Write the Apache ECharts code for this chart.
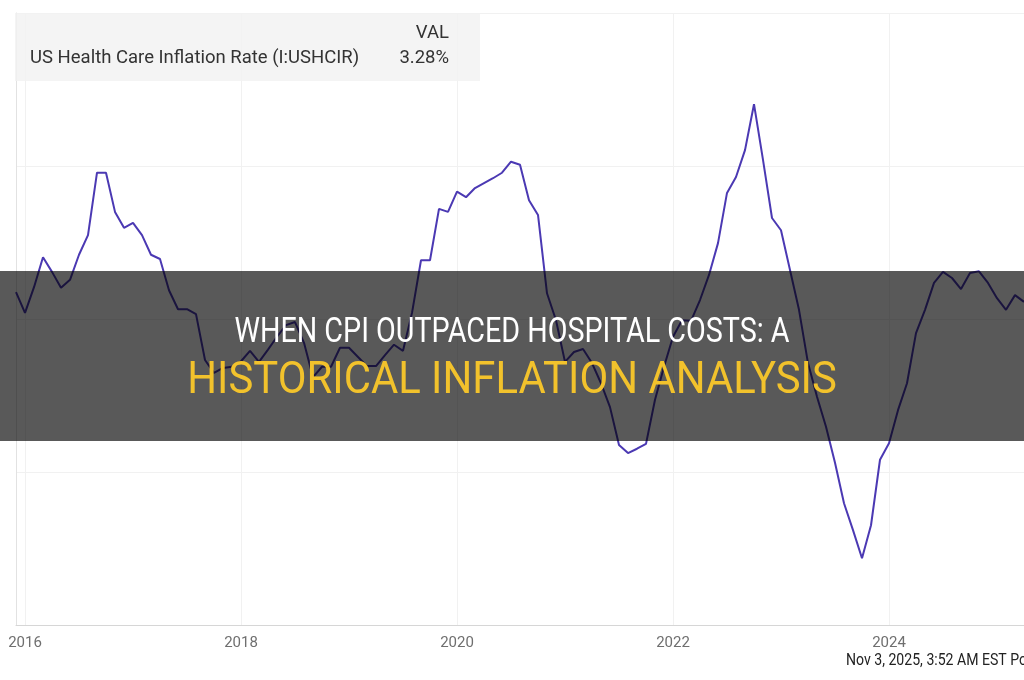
<!DOCTYPE html>
<html>
<head>
<meta charset="utf-8">
<script src="https://cdn.jsdelivr.net/npm/echarts@6/dist/echarts.min.js"></script>
<style>
html,body{margin:0;padding:0;background:#fff;}
#main{width:1024px;height:680px;}
</style>
</head>
<body>
<div id="main"></div>
<script>
// monthly values, % year over year
var v2015 = [2.94]; // Dec only
var v2016 = [2.60, 3.02, 3.51, 3.27, 3.01, 3.14, 3.55, 3.87, 4.89, 4.89, 4.25, 3.99];
var v2017 = [4.07, 3.87, 3.55, 3.48, 2.97, 2.66, 2.66, 2.58, 1.83, 1.62, 1.70, 1.72];
var v2018 = [1.81, 1.98, 1.80, 2.00, 2.21, 2.40, 2.45, 2.11, 1.55, 1.72, 1.72, 2.03];
var v2019 = [2.03, 1.88, 1.73, 1.73, 1.91, 2.08, 1.98, 2.60, 3.46, 3.46, 4.30, 4.25];
var v2020 = [4.58, 4.49, 4.64, 4.72, 4.80, 4.89, 5.07, 5.02, 4.44, 4.20, 2.92, 2.48];
var v2021 = [1.80, 1.96, 2.01, 1.78, 1.45, 1.06, 0.44, 0.31, 0.38, 0.46, 1.18, 1.72];
var v2022 = [2.21, 2.48, 2.47, 2.81, 3.22, 3.74, 4.56, 4.82, 5.26, 6.01, 5.10, 4.15];
var v2023 = [3.95, 3.30, 2.65, 1.78, 1.23, 0.74, 0.15, -0.51, -0.95, -1.41, -0.87, 0.20];
var v2024 = [0.47, 1.01, 1.45, 2.27, 2.65, 3.09, 3.27, 3.17, 2.99, 3.25, 3.28, 3.09];
var v2025 = [2.84, 2.65, 2.89, 2.78]; // Jan-Apr

var yearLabels = ['2016', '2018', '2020', '2022', '2024'];

var seriesName = 'US Health Care Inflation Rate (I:USHCIR)';
var lastVal = '3.28%';
var title1 = 'WHEN CPI OUTPACED HOSPITAL COSTS: A';
var title2 = 'HISTORICAL INFLATION ANALYSIS';
var stamp = 'Nov 3, 2025, 3:52 AM EST Powered by YCHARTS';

var byYear = [[2015, v2015, 12], [2016, v2016, 1], [2017, v2017, 1], [2018, v2018, 1], [2019, v2019, 1],
  [2020, v2020, 1], [2021, v2021, 1], [2022, v2022, 1], [2023, v2023, 1], [2024, v2024, 1], [2025, v2025, 1]];

var months = [];
var values = [];
byYear.forEach(function (row) {
  row[1].forEach(function (v, i) {
    var m = row[2] + i;
    months.push(row[0] + '-' + (m < 10 ? '0' + m : m));
    values.push(v);
  });
});

function isYearTick(idx, val) {
  var y = val.slice(0, 4);
  return val.slice(5) === '01' && yearLabels.indexOf(y) >= 0;
}

var myChart = echarts.init(document.getElementById('main'));
var option = {
  animation: false,
  backgroundColor: '#fff',
  grid: { left: 16, top: 13, width: 1011, height: 612 },
  xAxis: {
    type: 'category',
    data: months,
    boundaryGap: false,
    axisLine: { show: true, onZero: false, lineStyle: { color: '#d6d6d6', width: 1 } },
    axisTick: { show: false },
    axisLabel: {
      interval: isYearTick,
      formatter: function (v) { return v.slice(0, 4); },
      color: '#6f6f6f',
      fontFamily: 'Roboto',
      fontSize: 15,
      margin: 11
    },
    splitLine: { show: true, interval: isYearTick, lineStyle: { color: '#f1f1f1', width: 1 } }
  },
  yAxis: {
    type: 'value',
    min: -2.5,
    max: 7.5,
    interval: 2.5,
    axisLabel: { show: false },
    axisTick: { show: false },
    axisLine: { show: true, lineStyle: { color: '#e2e2e2' } },
    splitLine: { lineStyle: { color: '#f1f1f1', width: 1 } }
  },
  series: [{
    name: seriesName,
    type: 'line',
    data: values,
    showSymbol: false,
    lineStyle: { color: '#4b39b3', width: 2 },
    z: 3
  }],
  graphic: [
    // legend box
    { type: 'rect', left: 15, top: 13, z: 10, shape: { width: 465, height: 68 },
      style: { fill: 'rgba(242,242,242,0.82)' } },
    { type: 'text', x: 449, y: 33, z: 11,
      style: { text: 'VAL', textAlign: 'right', textVerticalAlign: 'middle', fill: '#333', font: '18.5px Roboto' } },
    { type: 'text', x: 30, y: 58, z: 11,
      style: { text: seriesName, textAlign: 'left', textVerticalAlign: 'middle', fill: '#333', font: '18.5px Roboto' } },
    { type: 'text', x: 449, y: 58, z: 11,
      style: { text: lastVal, textAlign: 'right', textVerticalAlign: 'middle', fill: '#333', font: '18.5px Roboto' } },
    // dark title band
    { type: 'rect', left: 0, top: 271, z: 20, shape: { width: 1024, height: 170 },
      style: { fill: 'rgba(0,0,0,0.65)' } },
    { type: 'text', x: 512, y: 333, z: 21, scaleX: 0.82,
      style: { text: title1, textAlign: 'center', textVerticalAlign: 'middle', fill: '#ffffff', font: '35px Roboto' } },
    { type: 'text', x: 512, y: 382, z: 21, scaleX: 0.93,
      style: { text: title2, textAlign: 'center', textVerticalAlign: 'middle', fill: '#f2c22c', font: '45px Roboto' } },
    // timestamp
    { type: 'text', x: 846, y: 661, z: 11, scaleX: 0.88,
      style: { text: stamp, textAlign: 'left', textVerticalAlign: 'middle', fill: '#222', font: '16px Roboto' } }
  ]
};
myChart.setOption(option);
</script>
</body>
</html>
